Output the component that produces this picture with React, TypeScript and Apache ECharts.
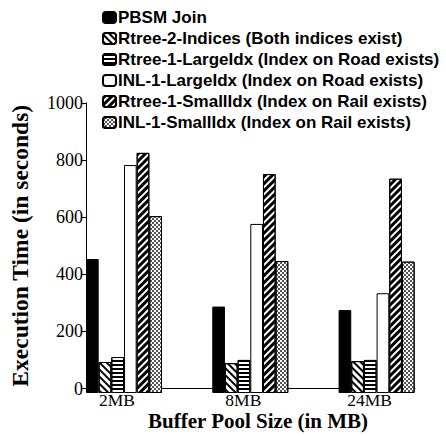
import React, { useEffect, useRef } from "react";
import * as echarts from "echarts";

const categories = ["2MB", "8MB", "24MB"];
const seriesNames = [
  "PBSM Join",
  "Rtree-2-Indices (Both indices exist)",
  "Rtree-1-LargeIdx (Index on Road exists)",
  "INL-1-LargeIdx (Index on Road exists)",
  "Rtree-1-SmallIdx (Index on Rail exists)",
  "INL-1-SmallIdx (Index on Rail exists)",
];
const pbsm = [462, 298, 286];
const rtree2 = [107, 103, 110];
const rtree1Large = [124, 114, 114];
const inl1Large = [786, 583, 344];
const rtree1Small = [828, 755, 739];
const inl1Small = [610, 455, 453];
const yTicks = { min: 0, max: 1000, interval: 200 };

const SERIF = "'Liberation Serif', 'Times New Roman', serif";
const SANS = "'Liberation Sans', Arial, sans-serif";

export default function App() {
  const ref = useRef<HTMLDivElement>(null);
  useEffect(() => {
    document.body.style.margin = "0";
    const chart = echarts.init(ref.current!, null, { renderer: "svg" });
    const values = [pbsm, rtree2, rtree1Large, inl1Large, rtree1Small, inl1Small];
    const styles: any[] = [
      { color: "#000" },
      {
        color: "#fff",
        decal: { symbol: "rect", symbolSize: 1, dashArrayX: [1, 0], dashArrayY: [2, 3], rotation: Math.PI / 4, color: "#000", backgroundColor: "#fff" },
      },
      {
        color: "#fff",
        decal: { symbol: "rect", symbolSize: 1, dashArrayX: [1, 0], dashArrayY: [2, 2], rotation: 0, color: "#000", backgroundColor: "#fff" },
      },
      { color: "#fff" },
      {
        color: "#fff",
        decal: { symbol: "rect", symbolSize: 1, dashArrayX: [1, 0], dashArrayY: [3, 2], rotation: -Math.PI / 4, color: "#000", backgroundColor: "#fff" },
      },
      {
        color: "#fff",
        decal: { symbol: "rect", symbolSize: 1, dashArrayX: [[2, 2], [0, 2, 2, 0]], dashArrayY: [2, 0], rotation: 0, color: "#555", backgroundColor: "#fff" },
      },
    ];
    const option: any = {
      animation: false,
      backgroundColor: "#fff",
      legend: {
        orient: "vertical",
        left: 97,
        top: 4,
        itemWidth: 13,
        itemHeight: 11,
        itemGap: 4,
        data: seriesNames,
        textStyle: { fontFamily: SANS, fontWeight: "bold", fontSize: 17, color: "#000", padding: [0, 0, 0, -3] },
      },
      grid: [
        { left: 86, right: 31, top: 103, bottom: 43 },
        { left: 60.85, right: 6.25, top: 103, bottom: 43 },
      ],
      xAxis: [
        {
          gridIndex: 0,
          type: "value",
          min: 0,
          max: 1,
          axisLine: { show: true, lineStyle: { color: "#000", width: 1 } },
          axisTick: { show: false },
          axisLabel: { show: false },
          splitLine: { show: false },
          name: "Buffer Pool Size (in MB)",
          nameLocation: "middle",
          nameGap: 22,
          nameTextStyle: { fontFamily: SERIF, fontWeight: "bold", fontSize: 21, lineHeight: 20, color: "#000", verticalAlign: "top", padding: [0, 0, 0, 15] },
        },
        {
          gridIndex: 1,
          type: "category",
          data: categories,
          axisLine: { show: false },
          axisTick: { show: false },
          splitLine: { show: false },
          axisLabel: { fontFamily: SERIF, fontSize: 17.5, lineHeight: 16, color: "#000", margin: -1, padding: [0, 14, 0, 0] },
        },
      ],
      yAxis: [
        {
          gridIndex: 0,
          type: "value",
          min: yTicks.min,
          max: yTicks.max,
          interval: yTicks.interval,
          axisLine: { show: true, lineStyle: { color: "#000", width: 1 } },
          axisTick: { show: true, inside: false, length: 5, lineStyle: { color: "#000" } },
          axisLabel: { fontFamily: SERIF, fontSize: 18, color: "#000", margin: 3, formatter: (v: number) => String(v) },
          splitLine: { show: false },
          name: "Execution Time (in seconds)",
          nameLocation: "middle",
          nameRotate: 90,
          nameGap: 54,
          nameTextStyle: { fontFamily: SERIF, fontWeight: "bold", fontSize: 23.5, color: "#000" },
        },
        {
          gridIndex: 1,
          type: "value",
          min: yTicks.min,
          max: yTicks.max,
          interval: yTicks.interval,
          show: false,
          splitLine: { show: false },
        },
      ],
      series: seriesNames.map((name, i) => ({
        name,
        type: "bar",
        xAxisIndex: 1,
        yAxisIndex: 1,
        data: values[i],
        barWidth: 12.67,
        barGap: "0%",
        barCategoryGap: "39.8%",
        itemStyle: { ...styles[i], borderColor: "#000", borderWidth: 1 },
      })),
    };
    chart.setOption(option);
    return () => chart.dispose();
  }, []);
  return <div ref={ref} style={{ width: 446, height: 436 }} />;
}
